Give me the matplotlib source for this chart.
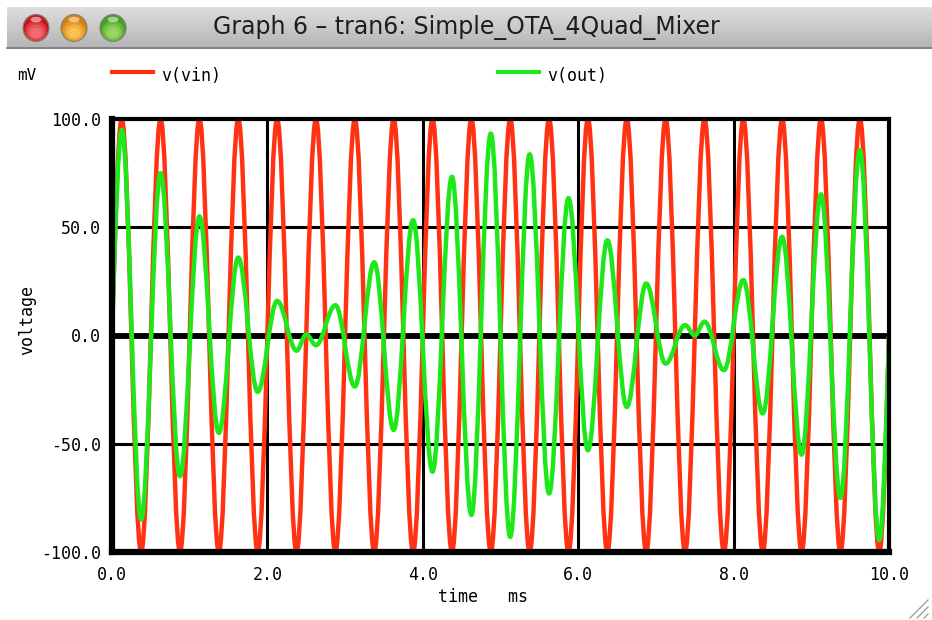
import matplotlib
matplotlib.use('Agg')
import matplotlib.pyplot as plt
import numpy as np
from matplotlib.path import Path
from matplotlib.patches import PathPatch, Ellipse
from matplotlib.lines import Line2D

# ---------------- data (extrema) ----------------
vin_time_ms = [0.0, 0.125, 0.375, 0.625, 0.875, 1.125, 1.375, 1.625, 1.875,
               2.125, 2.375, 2.625, 2.875, 3.125, 3.375, 3.625, 3.875, 4.125,
               4.375, 4.625, 4.875, 5.125, 5.375, 5.625, 5.875, 6.125, 6.375,
               6.625, 6.875, 7.125, 7.375, 7.625, 7.875, 8.125, 8.375, 8.625,
               8.875, 9.125, 9.375, 9.625, 9.875, 10.0]
vin_mV = [0, 100, -100, 100, -100, 100, -100, 100, -100, 100, -100,
          100, -100, 100, -100, 100, -100, 100, -100, 100, -100,
          100, -100, 100, -100, 100, -100, 100, -100, 100, -100,
          100, -100, 100, -100, 100, -100, 100, -100, 100, -100, 0]

out_time_ms = [0.0, 0.125, 0.375, 0.625, 0.875, 1.125, 1.375, 1.625, 1.875,
               2.125, 2.375, 2.5, 2.625, 2.875, 3.125, 3.375, 3.625, 3.875,
               4.125, 4.375, 4.625, 4.875, 5.125, 5.375, 5.625, 5.875, 6.125,
               6.375, 6.625, 6.875, 7.125, 7.375, 7.5, 7.625, 7.875, 8.125,
               8.375, 8.625, 8.875, 9.125, 9.375, 9.625, 9.875, 10.0]
out_mV = [0, 95, -85, 75, -65, 55, -45, 36, -26, 16, -7, 0.5,
          -4.5, 14, -23.6, 33.8, -43.6, 53.3, -62.9, 73.3, -82.9, 93.3,
          -93, 83.7, -73, 63.4, -53, 44, -33, 24, -13, 4.8, 0,
          6.4, -16, 25.6, -36, 45.6, -55, 65.2, -75, 85.7, -94.5, 0]

x_ticks = [0, 2, 4, 6, 8, 10]
x_tick_labels = ['0.0', '2.0', '4.0', '6.0', '8.0', '10.0']
y_ticks = [-100, -50, 0, 50, 100]
y_tick_labels = ['-100.0', '-50.0', '0.0', '50.0', '100.0']

series_names = ['v(vin)', 'v(out)']
RED = '#ff3314'
GREEN = '#1ee81a'
MONO = 'DejaVu Sans Mono'


def wave_path(t, v):
    """Smooth path through the extrema using cubic Bezier segments."""
    verts = [(t[0], v[0])]
    codes = [Path.MOVETO]
    n = len(t)
    for i in range(n - 1):
        t0, v0, t1, v1 = t[i], v[i], t[i + 1], v[i + 1]
        dt = t1 - t0
        if i == 0:
            c1 = (t0 + dt / 3, v0 + (v1 - v0) * np.pi / 6)
            c2 = (t0 + 2 * dt / 3, v1)
        elif i == n - 2:
            c1 = (t0 + dt / 3, v0)
            c2 = (t0 + 2 * dt / 3, v1 + (v0 - v1) * np.pi / 6)
        else:
            c1 = (t0 + 0.364 * dt, v0)
            c2 = (t1 - 0.364 * dt, v1)
        verts += [c1, c2, (t1, v1)]
        codes += [Path.CURVE4] * 3
    return Path(verts, codes)


W, H = 932, 620
fig = plt.figure(figsize=(W / 100, H / 100), dpi=100)
fig.patch.set_facecolor('white')

# ---------------- overlay in pixel coordinates (window chrome) ----------------
ov = fig.add_axes([0, 0, 1, 1])
ov.set_axis_off()
grad = np.linspace(0.87, 0.71, 64).reshape(-1, 1)
ov.imshow(grad, cmap='gray', vmin=0, vmax=1, extent=[7, W, 47, 7],
          aspect='auto', interpolation='bilinear', zorder=1)
ov.plot([7, W], [47.5, 47.5], color='#6a6a6a', lw=1.2, zorder=2)
ov.set_xlim(0, W)
ov.set_ylim(H, 0)

lights = [(36, '#c4161e', '#ff7a7a'), (74, '#d9800c', '#ffd060'),
          (113, '#46a020', '#a6e070')]
for cx, base, glow in lights:
    ov.add_patch(Ellipse((cx, 28), 26, 27, facecolor=base,
                         edgecolor='#808080', lw=0.8, zorder=3))
    for k, (w, h, a) in enumerate([(22, 20, 0.35), (17, 15, 0.45),
                                   (12, 10, 0.55)]):
        ov.add_patch(Ellipse((cx, 31 + k), w, h, facecolor=glow,
                             edgecolor='none', alpha=a, zorder=4))
    ov.add_patch(Ellipse((cx, 19.5), 11, 5.5, facecolor='white',
                         edgecolor='none', alpha=0.5, zorder=5))

ov.text(466, 27, 'Graph 6 \u2013 tran6: Simple_OTA_4Quad_Mixer',
        ha='center', va='center', fontsize=17, color='#1e1e1e',
        family='DejaVu Sans', zorder=6)

# legend row
ov.text(17, 76, 'mV', ha='left', va='center', fontsize=11.5, family=MONO)
ov.add_line(Line2D([112, 153], [72, 72], color=RED, lw=3))
ov.text(161, 76, series_names[0], ha='left', va='center', fontsize=12,
        family=MONO)
ov.add_line(Line2D([498, 539], [72, 72], color=GREEN, lw=3))
ov.text(547, 76, series_names[1], ha='left', va='center', fontsize=12,
        family=MONO)

# axis titles
ov.text(27, 320, 'voltage', ha='center', va='center', rotation=90,
        fontsize=12, family=MONO)
ov.text(483, 597, 'time   ms', ha='center', va='center', fontsize=12,
        family=MONO)

# resize grip
for off in (0, 7, 14):
    ov.add_line(Line2D([910 + off, 928], [618, 600 + off], color='#a0a0a0',
                       lw=1.0))

# ---------------- main plot ----------------
x0, x1 = 112, 889
y0, y1 = 119, 552
ax = fig.add_axes([x0 / W, (H - y1) / H, (x1 - x0) / W, (y1 - y0) / H])
ax.set_facecolor('white')
ax.set_xlim(0, 10)
ax.set_ylim(-100, 100)

for xv in x_ticks[1:-1]:
    ax.axvline(xv, color='black', lw=2.2, zorder=1)
for yv in y_ticks[1:-1]:
    ax.axhline(yv, color='black', lw=4.2 if yv == 0 else 2.2, zorder=1)

ax.add_patch(PathPatch(wave_path(vin_time_ms, vin_mV), facecolor='none',
                       edgecolor=RED, lw=3.2, zorder=2, joinstyle='round'))
ax.add_patch(PathPatch(wave_path(out_time_ms, out_mV), facecolor='none',
                       edgecolor=GREEN, lw=3.2, zorder=3, joinstyle='round'))

for side, sp in ax.spines.items():
    sp.set_color('black')
    sp.set_linewidth(4.5 if side in ('left', 'bottom') else 3.0)
    sp.set_zorder(5)

ax.set_xticks(x_ticks)
ax.set_xticklabels(x_tick_labels)
ax.set_yticks(y_ticks)
ax.set_yticklabels(y_tick_labels)
ax.tick_params(axis='both', length=0, labelsize=12)
ax.tick_params(axis='x', pad=10)
ax.tick_params(axis='y', pad=8)
for lab in ax.get_xticklabels() + ax.get_yticklabels():
    lab.set_family(MONO)

fig.savefig('out.png', dpi=100, facecolor='white')
